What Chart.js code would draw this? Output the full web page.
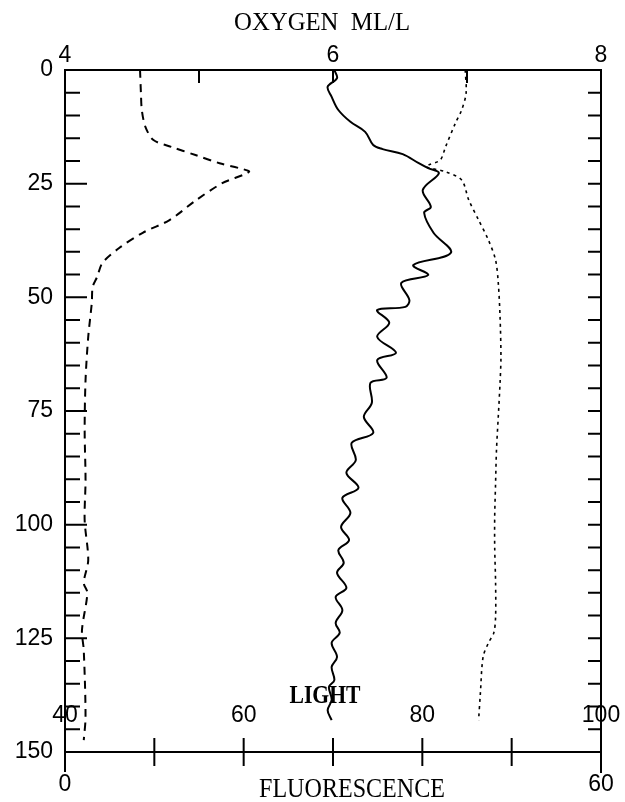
<!DOCTYPE html>
<html>
<head>
<meta charset="utf-8">
<script src="https://cdn.jsdelivr.net/npm/chart.js@4"></script>
<style>
    html, body { margin: 0; padding: 0; background: #fff; }
    canvas { display: block; }
</style>
</head>
<body>
<canvas id="profileChart" width="625" height="802"></canvas>
<script>
// Depth profile data (depth in m, 0 at top)
const oxygenDepth = [0, 1.8, 3.7, 5.9, 8.8, 11.4, 13.6, 16.5, 17.4, 18.5, 20.5, 21.6, 22.7, 26.4, 30.1, 31.4, 35.8, 40.2, 42.9, 45.1, 46.8, 50.6, 52.1, 52.8, 55.6, 58.7, 62.2, 63.8, 67.7, 68.8, 73.2, 76.3, 79.8, 82.0, 85.8, 88.6, 91.9, 94.1, 97.4, 100.5, 103.4, 105.6, 108.4, 110.6, 113.9, 115.9, 118.8, 121.6, 123.8, 126.0, 129.1, 131.3, 134.2, 135.7, 138.5, 140.8, 143.0];
const oxygenValues = [6.01, 6.03, 5.96, 5.99, 6.04, 6.13, 6.24, 6.30, 6.37, 6.52, 6.64, 6.71, 6.79, 6.67, 6.73, 6.68, 6.75, 6.88, 6.60, 6.71, 6.51, 6.57, 6.54, 6.33, 6.42, 6.33, 6.47, 6.33, 6.40, 6.28, 6.29, 6.23, 6.30, 6.14, 6.17, 6.10, 6.19, 6.07, 6.13, 6.06, 6.12, 6.04, 6.08, 6.03, 6.10, 6.02, 6.07, 6.02, 6.05, 5.99, 6.03, 5.99, 6.01, 5.97, 5.99, 5.96, 5.99];

const fluorDepth = [0, 5.1, 8.8, 12.5, 15.4, 16.9, 18.7, 20.5, 21.6, 22.4, 24.9, 28.6, 33.0, 35.8, 39.1, 42.4, 45.5, 47.7, 51.2, 58.7, 68.2, 79.2, 90.2, 99.0, 107.8, 112.8, 115.0, 123.2, 127.6, 142.3, 147.4];
const fluorValues = [8.4, 8.5, 8.6, 9.0, 9.9, 11.9, 14.6, 17.3, 19.5, 20.6, 17.6, 14.7, 11.7, 8.7, 6.1, 4.2, 3.6, 3.1, 3.0, 2.6, 2.3, 2.2, 2.3, 2.2, 2.6, 2.1, 2.5, 1.9, 2.1, 2.3, 2.1];

const lightDepth = [0, 5.1, 8.8, 11.7, 16.9, 19.8, 20.9, 21.3, 22.4, 24.2, 28.6, 33.0, 37.4, 41.8, 46.8, 54.3, 63.1, 68.8, 76.3, 83.6, 90.8, 98.3, 104.9, 112.8, 120.3, 123.8, 126.0, 129.1, 137.0, 143.0];
const lightValues = [84.8, 84.9, 84.4, 83.7, 82.6, 82.0, 80.7, 80.4, 82.6, 84.4, 85.2, 86.3, 87.4, 88.2, 88.5, 88.7, 88.8, 88.7, 88.5, 88.3, 88.2, 88.1, 88.1, 88.2, 88.2, 88.0, 87.4, 86.8, 86.5, 86.3];

// Tick labels
const depthLabels = [0, 25, 50, 75, 100, 125, 150];
const oxygenLabels = [4, 6, 8];
const oxygenTicks = [5, 6, 7];
const fluorLabels = [0, 60];
const fluorTicks = [10, 20, 30, 40, 50];
const lightLabels = [40, 60, 80, 100];

const SANS = '"Liberation Sans", Arial, sans-serif';
const SERIF = '"Liberation Serif", "Times New Roman", serif';

function toPoints(values, depths) {
    return values.map((v, i) => ({ x: v, y: depths[i] }));
}

function text(ctx, str, x, y, font, align, maxWidth) {
    ctx.font = font;
    ctx.textAlign = align || 'center';
    ctx.textBaseline = 'middle';
    if (maxWidth) {
        ctx.fillText(str, x, y, maxWidth);
    } else {
        ctx.fillText(str, x, y);
    }
}

// Frame, ticks and all the labels, placed with the chart's own scales
const framePlugin = {
    id: 'frame',
    afterDraw(chart) {
        const ctx = chart.ctx;
        const y = chart.scales.y;
        const xO = chart.scales.xO;
        const xF = chart.scales.xF;
        const xL = chart.scales.xL;
        const left = chart.chartArea.left;
        const right = chart.chartArea.right;
        const top = y.getPixelForValue(0);
        const bottom = y.getPixelForValue(150);

        ctx.save();
        ctx.strokeStyle = '#000';
        ctx.fillStyle = '#000';
        ctx.lineWidth = 2;
        ctx.lineCap = 'butt';

        ctx.beginPath();
        // outer box
        ctx.moveTo(left, bottom + 20);
        ctx.lineTo(left, top);
        ctx.lineTo(right, top);
        ctx.lineTo(right, bottom + 21);
        // fluorescence axis
        ctx.moveTo(left, bottom);
        ctx.lineTo(right, bottom);

        // depth ticks
        for (let d = 5; d < 150; d += 5) {
            const py = y.getPixelForValue(d);
            const len = d % 25 === 0 ? 22 : 15;
            ctx.moveTo(left, py);
            ctx.lineTo(left + len, py);
            ctx.moveTo(right, py);
            ctx.lineTo(right - 13, py);
        }
        // oxygen ticks
        oxygenTicks.forEach(v => {
            const px = xO.getPixelForValue(v);
            ctx.moveTo(px, top);
            ctx.lineTo(px, top + 13);
        });
        // fluorescence ticks
        fluorTicks.forEach(v => {
            const px = xF.getPixelForValue(v);
            ctx.moveTo(px, bottom - 14);
            ctx.lineTo(px, bottom + 14);
        });
        ctx.stroke();

        const numFont = '23px ' + SANS;
        depthLabels.forEach(d => {
            text(ctx, String(d), left - 12, y.getPixelForValue(d), numFont, 'right');
        });
        oxygenLabels.forEach(v => {
            text(ctx, String(v), xO.getPixelForValue(v), top - 14, numFont);
        });
        fluorLabels.forEach(v => {
            text(ctx, String(v), xF.getPixelForValue(v), bottom + 33, numFont);
        });
        lightLabels.forEach(v => {
            text(ctx, String(v), xL.getPixelForValue(v), bottom - 36, numFont);
        });

        text(ctx, 'OXYGEN  ML/L', 322, 23, '26px ' + SERIF, 'center', 176);
        text(ctx, 'FLUORESCENCE', 352, bottom + 38, '27px ' + SERIF, 'center', 186);
        text(ctx, 'LIGHT', 325, bottom - 56, 'bold 26px ' + SERIF, 'center', 71);
        ctx.restore();
    }
};

const ctx = document.getElementById('profileChart').getContext('2d');

new Chart(ctx, {
    type: 'scatter',
    data: {
        datasets: [
            {
                label: 'Oxygen',
                data: toPoints(oxygenValues, oxygenDepth),
                xAxisID: 'xO',
                showLine: true,
                borderColor: '#000',
                borderWidth: 2,
                pointRadius: 0,
                tension: 0.35
            },
            {
                label: 'Fluorescence',
                data: toPoints(fluorValues, fluorDepth),
                xAxisID: 'xF',
                showLine: true,
                borderColor: '#000',
                borderWidth: 2,
                borderDash: [8, 6],
                pointRadius: 0,
                tension: 0.3
            },
            {
                label: 'Light',
                data: toPoints(lightValues, lightDepth),
                xAxisID: 'xL',
                showLine: true,
                borderColor: '#000',
                borderWidth: 1.6,
                borderDash: [3, 4],
                pointRadius: 0,
                tension: 0.3
            }
        ]
    },
    options: {
        responsive: false,
        animation: false,
        layout: { padding: { left: 65, right: 24, top: 70, bottom: 50 } },
        plugins: {
            legend: { display: false },
            tooltip: { enabled: false }
        },
        scales: {
            y: { type: 'linear', min: 0, max: 150, reverse: true, display: false },
            xO: { type: 'linear', position: 'top', min: 4, max: 8, display: false },
            xF: { type: 'linear', position: 'bottom', min: 0, max: 60, display: false },
            xL: { type: 'linear', position: 'bottom', min: 40, max: 100, display: false }
        }
    },
    plugins: [framePlugin]
});
</script>
</body>
</html>
